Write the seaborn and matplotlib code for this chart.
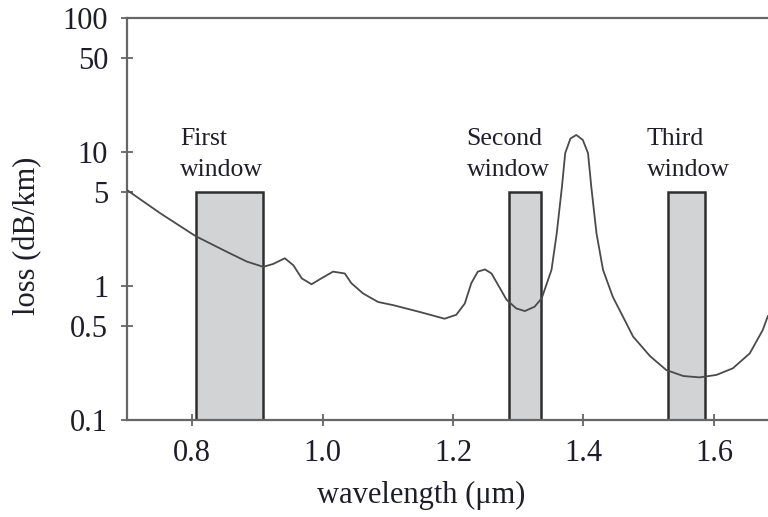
import matplotlib
matplotlib.use("Agg")
import matplotlib.pyplot as plt
import seaborn as sns
import pandas as pd

# Attenuation spectrum of silica fibre, read point by point (wavelength in µm, loss in dB/km)
wavelength = [0.700, 0.751, 0.805, 0.853, 0.884, 0.909, 0.924, 0.942, 0.955, 0.968,
              0.983, 0.998, 1.016, 1.034, 1.044, 1.062, 1.085, 1.108, 1.149, 1.187,
              1.205, 1.218, 1.228, 1.238, 1.249, 1.259, 1.269, 1.282, 1.297, 1.310,
              1.325, 1.336, 1.351, 1.359, 1.367, 1.372, 1.380, 1.389, 1.399, 1.407,
              1.412, 1.420, 1.430, 1.445, 1.463, 1.476, 1.502, 1.527, 1.553, 1.578,
              1.604, 1.629, 1.655, 1.675, 1.683]
loss = [5.2, 3.49, 2.36, 1.80, 1.52, 1.39, 1.46, 1.61, 1.43, 1.14,
        1.03, 1.14, 1.28, 1.24, 1.05, 0.88, 0.76, 0.72, 0.64, 0.57,
        0.61, 0.74, 1.05, 1.28, 1.33, 1.24, 1.02, 0.79, 0.68, 0.65,
        0.70, 0.81, 1.32, 2.47, 5.5, 9.8, 12.6, 13.4, 12.3, 9.8,
        5.5, 2.47, 1.32, 0.83, 0.56, 0.42, 0.30, 0.236, 0.213, 0.208,
        0.217, 0.243, 0.314, 0.47, 0.60]

# Transmission windows: start / end wavelength and label
window_start = [0.806, 1.286, 1.529]
window_end = [0.909, 1.335, 1.586]
window_top = [5, 5, 5]
window_names = [("First", "window"), ("Second", "window"), ("Third", "window")]
window_label_x = [0.781, 1.221, 1.497]

y_ticks = [0.1, 0.5, 1, 5, 10, 50, 100]
y_tick_labels = ["0.1", "0.5", "1", "5", "10", "50", "100"]
x_ticks = [0.8, 1.0, 1.2, 1.4, 1.6]
x_tick_labels = ["0.8", "1.0", "1.2", "1.4", "1.6"]

sns.set_style("white")
plt.rcParams["font.family"] = ["Liberation Serif", "DejaVu Serif"]

fig = plt.figure(figsize=(7.68, 5.17), dpi=100)
ax = fig.add_axes([127 / 768, 1 - 420 / 517, 1 - 127 / 768, (420 - 18) / 517])

ax.set_yscale("log")
ax.set_xlim(0.7, 1.683)
ax.set_ylim(0.1, 100)

# Shaded window boxes
for x0, x1, top in zip(window_start, window_end, window_top):
    ax.bar(x0, top - 0.1, width=x1 - x0, bottom=0.1, align="edge",
           color="#d2d3d5", edgecolor="#2e2e2e", linewidth=1.8, zorder=2)

df = pd.DataFrame({"wavelength": wavelength, "loss": loss})
sns.lineplot(data=df, x="wavelength", y="loss", ax=ax, color="#4a4a4a",
             linewidth=1.3, sort=False, zorder=3)
ax.lines[-1].set_solid_joinstyle("round")

text_color = "#1e1e2a"
for (l1, l2), lx in zip(window_names, window_label_x):
    ax.text(lx, 11.2, l1, fontsize=18.5, color=text_color, va="baseline", ha="left")
    ax.text(lx, 6.58, l2, fontsize=18.5, color=text_color, va="baseline", ha="left")

ax.set_yticks(y_ticks)
ax.set_yticklabels(y_tick_labels)
ax.minorticks_off()
ax.set_xticks(x_ticks)
ax.set_xticklabels(x_tick_labels)
ax.tick_params(axis="both", direction="inout", length=9, width=1.3,
               color="#666666", labelsize=22, labelcolor=text_color,
               left=True, bottom=True)
ax.tick_params(axis="y", pad=9)
ax.tick_params(axis="x", pad=9)

for side in ["left", "top", "bottom"]:
    ax.spines[side].set_color("#666666")
    ax.spines[side].set_linewidth(1.6)
ax.spines["right"].set_visible(False)

ax.set_xlabel("wavelength (μm)", fontsize=22, color=text_color)
ax.set_ylabel("loss (dB/km)", fontsize=22, color=text_color)
ax.xaxis.set_label_coords((421 - 127) / 641, -(495 - 420) / 402)
ax.yaxis.set_label_coords((28 - 127) / 641, (420 - 236) / 402)
ax.xaxis.label.set_va("center")
ax.yaxis.label.set_va("center")

fig.savefig("out.png", dpi=100)
